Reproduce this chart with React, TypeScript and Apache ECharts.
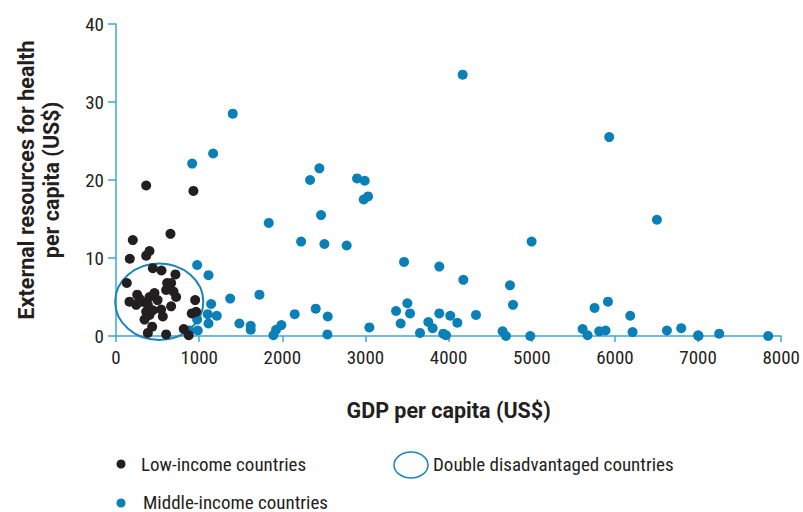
import React, { useEffect, useRef } from "react";
import * as echarts from "echarts";

const xTicks = [0, 8000, 1000];
const yTicks = [0, 40, 10];

const lowIncome: number[][] = [
  [363, 19.3], [931, 18.6], [655, 13.1], [202, 12.3], [403, 10.9], [363, 10.3],
  [166, 9.9], [443, 8.7], [547, 8.4], [715, 7.9], [130, 6.8], [615, 6.8],
  [663, 6.8], [603, 5.9], [691, 5.7], [723, 5.0], [255, 5.3], [403, 5.0],
  [463, 5.5], [162, 4.4], [243, 4.0], [315, 4.4], [383, 4.0], [952, 4.6],
  [363, 3.1], [443, 3.3], [543, 3.4], [663, 3.8], [403, 2.7], [563, 2.5],
  [911, 2.9], [963, 3.1], [435, 1.2], [383, 0.4], [603, 0.2], [815, 0.9],
  [875, 0.1], [343, 2.1], [500, 4.6], [280, 4.8],
];

const middleIncome: number[][] = [
  [976, 9.1], [1112, 7.8], [1144, 4.1], [1103, 2.8], [1212, 2.6], [976, 2.1],
  [1112, 1.6], [983, 0.7], [883, 0.7], [1404, 28.5], [1168, 23.4], [916, 22.1],
  [2446, 21.5], [2334, 20.0], [2899, 20.2], [2991, 19.9], [2979, 17.5], [3031, 17.9],
  [2466, 15.5], [1837, 14.5], [2226, 12.1], [2506, 11.8], [2774, 11.6], [1373, 4.8],
  [1725, 5.3], [1484, 1.6], [1620, 1.3], [1620, 0.8], [1989, 1.4], [1925, 0.8],
  [1893, 0.1], [2149, 2.8], [2402, 3.5], [2546, 2.5], [2542, 0.2], [3047, 1.1],
  [4169, 33.5], [4998, 12.1], [3464, 9.5], [3888, 8.9], [4177, 7.2], [4738, 6.5],
  [4774, 4.0], [3504, 4.2], [3368, 3.2], [3536, 2.9], [3423, 1.6], [3888, 2.9],
  [4020, 2.6], [4105, 1.7], [4329, 2.7], [3756, 1.8], [3808, 1.0], [3656, 0.4],
  [3936, 0.3], [3969, 0.1], [4649, 0.6], [4690, 0.0], [4982, 0.0], [5611, 0.9],
  [5671, 0.1], [5931, 25.5], [6505, 14.9], [5755, 3.6], [5916, 4.4], [6184, 2.6],
  [5811, 0.6], [5887, 0.7], [6212, 0.5], [6625, 0.7], [6797, 1.0], [7001, 0.1],
  [7005, 0.0], [7254, 0.3], [7843, 0.0],
];

// ellipse: centre x, centre y, radius x, radius y (data units)
const doubleDisadvantaged: number[][] = [[520, 4.4, 530, 4.9]];

const FONT = "'Roboto Condensed', 'Liberation Sans Narrow', Roboto, sans-serif";
const BOLD_FONT = "Roboto, 'Open Sans', sans-serif";
const TEXT = "#231f20";
const AXIS = "#3ea6d4";
const BLUE = "#0a80b6";
const RING = "#1a85b8";

export default function App() {
  const ref = useRef<HTMLDivElement>(null);
  useEffect(() => {
    if (!ref.current) return;
    const chart = echarts.init(ref.current, undefined, { renderer: "svg" });
    chart.setOption({
      animation: false,
      backgroundColor: "#ffffff",
      textStyle: { fontFamily: FONT },
      grid: { left: 116, right: 21, top: 24, bottom: 176 },
      xAxis: {
        type: "value",
        min: xTicks[0],
        max: xTicks[1],
        interval: xTicks[2],
        name: "GDP per capita (US$)",
        nameLocation: "middle",
        nameGap: 63,
        nameTextStyle: { fontFamily: BOLD_FONT, fontWeight: "bold", fontSize: 21.5, color: TEXT },
        axisLine: { lineStyle: { color: AXIS, width: 1.5 } },
        axisTick: { show: true, inside: false, length: 6, lineStyle: { color: AXIS, width: 1.5 } },
        axisLabel: { fontFamily: FONT, fontSize: 19, color: TEXT, margin: 12, formatter: (v: number) => String(v) },
        splitLine: { show: false },
      },
      yAxis: {
        type: "value",
        min: yTicks[0],
        max: yTicks[1],
        interval: yTicks[2],
        name: "External resources for health\nper capita (US$)",
        nameLocation: "middle",
        nameGap: 52,
        nameTextStyle: { fontFamily: BOLD_FONT, fontWeight: "bold", fontSize: 21.5, color: TEXT, lineHeight: 25 },
        axisLine: { show: true, lineStyle: { color: AXIS, width: 1.5 } },
        axisTick: { show: true, inside: false, length: 8, lineStyle: { color: AXIS, width: 1.5 } },
        axisLabel: { fontFamily: FONT, fontSize: 19, color: TEXT, margin: 12, formatter: (v: number) => String(v) },
        splitLine: { show: false },
      },
      series: [
        {
          type: "custom",
          name: "Double disadvantaged countries",
          z: 1,
          silent: true,
          data: doubleDisadvantaged,
          renderItem: (params: any, api: any) => {
            const c = api.coord([api.value(0), api.value(1)]);
            const s = api.size([api.value(2), api.value(3)]);
            return {
              type: "ellipse",
              shape: { cx: c[0], cy: c[1], rx: s[0], ry: s[1] },
              style: { fill: "none", stroke: RING, lineWidth: 2 },
            };
          },
        },
        {
          type: "scatter",
          name: "Middle-income countries",
          z: 3,
          symbolSize: 10,
          itemStyle: { color: BLUE, opacity: 1 },
          data: middleIncome,
        },
        {
          type: "scatter",
          name: "Low-income countries",
          z: 4,
          symbolSize: 10,
          itemStyle: { color: TEXT, opacity: 1 },
          data: lowIncome,
        },
      ],
      graphic: [
        { type: "circle", shape: { cx: 121, cy: 464, r: 4.5 }, style: { fill: TEXT } },
        {
          type: "text", x: 141, y: 464,
          style: { text: "Low-income countries", fontFamily: FONT, fontSize: 19, fill: TEXT, verticalAlign: "middle", align: "left" },
        },
        { type: "ellipse", shape: { cx: 411, cy: 465, rx: 17, ry: 13 }, style: { fill: "none", stroke: RING, lineWidth: 1.5 } },
        {
          type: "text", x: 433, y: 464,
          style: { text: "Double disadvantaged countries", fontFamily: FONT, fontSize: 19, fill: TEXT, verticalAlign: "middle", align: "left" },
        },
        { type: "circle", shape: { cx: 121, cy: 503, r: 4.5 }, style: { fill: BLUE } },
        {
          type: "text", x: 143, y: 502,
          style: { text: "Middle-income countries", fontFamily: FONT, fontSize: 19, fill: TEXT, verticalAlign: "middle", align: "left" },
        },
      ],
    });
    return () => chart.dispose();
  }, []);
  return <div ref={ref} style={{ width: 803, height: 512, position: "absolute", left: 0, top: 0 }} />;
}
